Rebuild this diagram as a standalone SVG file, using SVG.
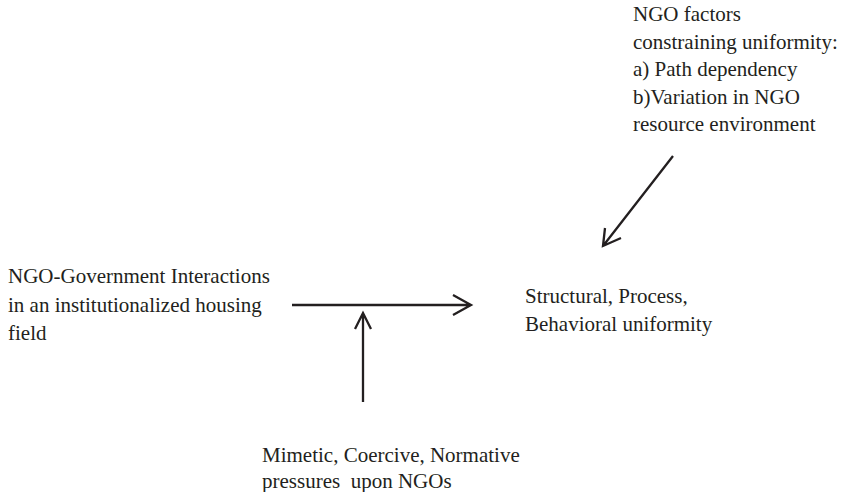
<svg xmlns="http://www.w3.org/2000/svg" width="843" height="492" viewBox="0 0 843 492">
<style>
text{font-family:"Liberation Serif","Times New Roman",serif;font-size:21px;fill:#231f20}
.ln{stroke:#231f20;stroke-width:2.3;fill:none}
</style>
<rect width="843" height="492" fill="#fff"/>
<g id="factors">
<text x="633" y="21">NGO factors</text>
<text x="633" y="48.5">constraining uniformity:</text>
<text x="633" y="76">a) Path dependency</text>
<text x="633" y="103.5">b)Variation in NGO</text>
<text x="633" y="131">resource environment</text>
</g>
<g id="interactions" style="font-size:21.3px">
<text x="8" y="283">NGO-Government Interactions</text>
<text x="8" y="311.5">in an institutionalized housing</text>
<text x="8" y="340">field</text>
</g>
<g id="uniformity" style="font-size:22px">
<text x="525" y="303">Structural, Process,</text>
<text x="525" y="331">Behavioral uniformity</text>
</g>
<g id="pressures" style="font-size:21.5px">
<text x="262" y="462">Mimetic, Coercive, Normative</text>
<text x="262" y="488" xml:space="preserve">pressures  upon NGOs</text>
</g>
<g id="connectors">
<path class="ln" d="M292 305H471M453 295L471 305L453 315"/>
<path class="ln" d="M363 402V313M355 329L363 313L371 329"/>
<path class="ln" d="M673 156L603 246M605 228L603 246L621 238"/>
</g>
</svg>
